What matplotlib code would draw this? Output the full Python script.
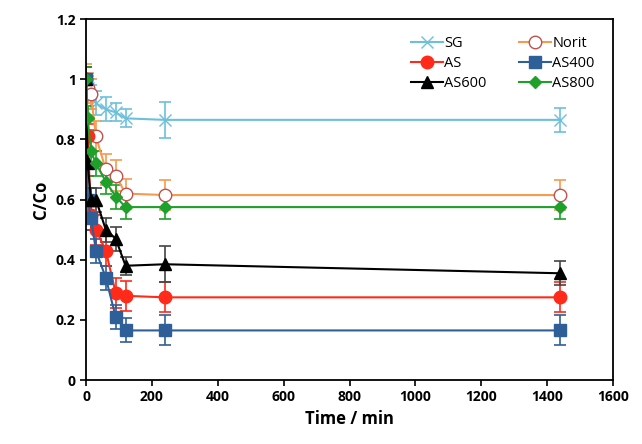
import matplotlib
matplotlib.use("Agg")
import matplotlib.pyplot as plt

plt.rcParams['font.family'] = ['Open Sans', 'DejaVu Sans']

# data
t = [0, 5, 15, 30, 60, 90, 120, 240, 1440]

sg = [1.0, 0.97, 0.94, 0.92, 0.90, 0.89, 0.87, 0.865, 0.865]
sg_err = [0.04, 0.04, 0.04, 0.04, 0.04, 0.03, 0.03, 0.06, 0.04]

norit = [1.0, 0.97, 0.95, 0.81, 0.70, 0.68, 0.62, 0.615, 0.615]
norit_err = [0.05, 0.05, 0.05, 0.05, 0.05, 0.05, 0.05, 0.05, 0.05]

as_ = [1.0, 0.81, 0.55, 0.50, 0.43, 0.29, 0.28, 0.275, 0.275]
as_err = [0.04, 0.04, 0.05, 0.05, 0.05, 0.05, 0.05, 0.05, 0.05]

as400 = [1.0, 0.60, 0.54, 0.43, 0.34, 0.21, 0.165, 0.165, 0.165]
as400_err = [0.04, 0.04, 0.04, 0.04, 0.04, 0.04, 0.04, 0.05, 0.05]

as600 = [1.0, 0.72, 0.60, 0.60, 0.50, 0.47, 0.38, 0.385, 0.355]
as600_err = [0.04, 0.04, 0.04, 0.04, 0.04, 0.04, 0.03, 0.06, 0.04]

as800 = [1.0, 0.87, 0.76, 0.72, 0.66, 0.61, 0.575, 0.575, 0.575]
as800_err = [0.04, 0.04, 0.04, 0.04, 0.04, 0.04, 0.04, 0.04, 0.04]

fig = plt.figure(figsize=(6.42, 4.44), dpi=100)
ax = fig.add_axes([0.134, 0.144, 0.821, 0.813])

handles = {}

def series(y, err, label, color, marker, ms, mfc=None, mec=None, ecolor=None):
    c = ax.errorbar(t, y, yerr=err, color=color, marker=marker,
                    markersize=ms, markerfacecolor=mfc or color,
                    markeredgecolor=mec or color, ecolor=ecolor or color,
                    elinewidth=1.2, capsize=4, capthick=1.2, linewidth=1.5)
    handles[label] = c[0]

series(sg, sg_err, "SG", "#6cc0dc", "x", 9, mec="#6cc0dc")
series(norit, norit_err, "Norit", "#f79a50", "o", 9, mfc="white", mec="#c0504d")
series(as_, as_err, "AS", "#ff2a1a", "o", 9)
series(as400, as400_err, "AS400", "#2f5f98", "s", 9)
series(as600, as600_err, "AS600", "black", "^", 9, ecolor="#444444")
series(as800, as800_err, "AS800", "#1fa02a", "D", 6)

ax.set_xlim(0, 1600)
ax.set_ylim(0, 1.2)
ax.set_xticks(range(0, 1601, 200))
ax.set_yticks([0, 0.2, 0.4, 0.6, 0.8, 1.0, 1.2])
ax.set_yticklabels(["0", "0.2", "0.4", "0.6", "0.8", "1", "1.2"])
ax.tick_params(direction="out", length=4, width=1.2, labelsize=10)
for lab in ax.get_xticklabels() + ax.get_yticklabels():
    lab.set_fontweight("bold")
for s in ax.spines.values():
    s.set_linewidth(1.3)

ax.set_xlabel("Time / min", fontsize=12, fontweight="bold")
ax.set_ylabel("C/Co", fontsize=12, fontweight="bold")

# legend read row-wise: SG Norit / AS AS400 / AS600 AS800
order = ["SG", "AS", "AS600", "Norit", "AS400", "AS800"]
ax.legend([handles[k] for k in order], order, ncol=2, frameon=False,
          loc="upper right", bbox_to_anchor=(0.99, 0.99), fontsize=10.5,
          handlelength=2.2, columnspacing=2.2, labelspacing=0.35,
          handletextpad=0.1)

fig.savefig("out.png", dpi=100)
